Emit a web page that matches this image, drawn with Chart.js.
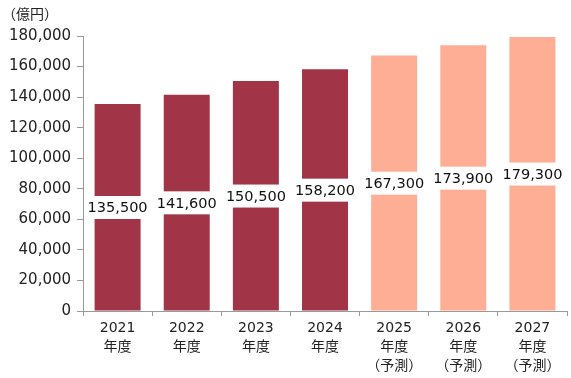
<!DOCTYPE html>
<html><head><meta charset="utf-8">
<script src="https://cdn.jsdelivr.net/npm/chart.js@4/dist/chart.umd.min.js"></script>
<style>html,body{margin:0;padding:0;background:#fff}#wrap{width:571px;height:378px}</style>
</head><body><div id="wrap"><canvas id="c" width="571" height="378"></canvas></div>
<script>
const categories = [["2021","年度"],["2022","年度"],["2023","年度"],["2024","年度"],["2025","年度","（予測）"],["2026","年度","（予測）"],["2027","年度","（予測）"]];
const values = [135500,141600,150500,158200,167300,173900,179300];
const isForecast = [false,false,false,false,true,true,true];
const yTicks = [0,20000,40000,60000,80000,100000,120000,140000,160000,180000];
const unitLabel = "（億円）";
const FONT = "'DejaVu Sans', 'Noto Sans CJK JP', sans-serif";
const CJK = "'Noto Sans CJK JP', sans-serif";

const labelPlugin = {
  id: 'labels',
  afterDatasetsDraw(chart) {
    const ctx = chart.ctx;
    const meta = chart.getDatasetMeta(0);
    const ys = chart.scales.y;
    ctx.save();
    ctx.font = "14.5px " + FONT;
    ctx.textAlign = 'center';
    ctx.textBaseline = 'middle';
    meta.data.forEach((bar, i) => {
      const v = values[i];
      const y = ys.getPixelForValue(v / 2);
      const txt = v.toLocaleString('en-US');
      const w = ctx.measureText(txt).width + 4;
      ctx.fillStyle = '#fff';
      ctx.fillRect(bar.x - w / 2, y - 11.5, w, 23);
      ctx.fillStyle = '#111';
      ctx.fillText(txt, bar.x, y + 1);
    });
    ctx.font = "14px " + CJK;
    ctx.textAlign = 'left';
    ctx.fillStyle = '#222';
    ctx.fillText(unitLabel, 2, 14);
    ctx.restore();
  }
};

new Chart(document.getElementById('c'), {
  type: 'bar',
  data: {
    labels: categories,
    datasets: [{
      data: values,
      backgroundColor: isForecast.map(f => f ? '#FDAE94' : '#A13446'),
      barPercentage: 0.665,
      categoryPercentage: 1.0
    }]
  },
  options: {
    responsive: false,
    animation: false,
    layout: { padding: { top: 36, right: 4, left: 3, bottom: 0 } },
    plugins: { legend: { display: false }, tooltip: { enabled: false } },
    scales: {
      y: {
        min: 0, max: 180000,
        afterBuildTicks(axis) { axis.ticks = yTicks.map(v => ({ value: v })); },
        border: { color: '#999', width: 1 },
        grid: { drawOnChartArea: false, tickLength: 6, color: '#999' },
        ticks: {
          color: '#222', padding: 6,
          font: { size: 15, family: FONT },
          callback: v => v.toLocaleString('en-US')
        }
      },
      x: {
        afterFit(axis) { axis.height = 67; },
        border: { color: '#999', width: 1 },
        grid: { drawOnChartArea: false, tickLength: 5, color: '#999', offset: true },
        ticks: {
          color: '#222', padding: 3, maxRotation: 0,
          font: { size: 14, family: FONT, lineHeight: 1.35 }
        }
      }
    }
  },
  plugins: [labelPlugin]
});
</script></body></html>
